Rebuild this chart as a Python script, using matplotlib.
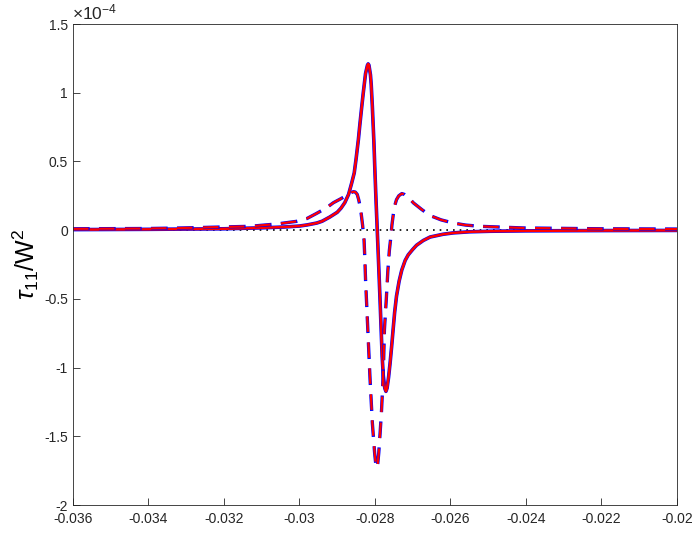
import matplotlib
matplotlib.use("Agg")
import matplotlib.pyplot as plt

plt.rcParams['font.family'] = ['Liberation Sans', 'DejaVu Sans']
plt.rcParams['mathtext.fontset'] = 'custom'
plt.rcParams['mathtext.rm'] = 'Liberation Sans'
plt.rcParams['mathtext.it'] = 'Liberation Sans:italic'

# values in units of 1e-4
x_solid = [-0.036, -0.034, -0.032, -0.031, -0.0304, -0.0300, -0.0298, -0.02954,
           -0.0294, -0.0292, -0.0290, -0.0289, -0.0288, -0.0287, -0.02862,
           -0.02855, -0.0285, -0.02844, -0.0284, -0.02835, -0.02831, -0.02825,
           -0.0282, -0.02818, -0.02816, -0.02812, -0.0281, -0.02807, -0.02803,
           -0.0280, -0.02797, -0.02794, -0.0279, -0.02787, -0.02784, -0.02781,
           -0.02778, -0.02774, -0.02771, -0.02768, -0.02764, -0.0276, -0.02756,
           -0.02752, -0.02748, -0.02743, -0.02736, -0.02729, -0.0272, -0.02712,
           -0.027, -0.0269, -0.02672, -0.02654, -0.0262, -0.02593, -0.0255,
           -0.02495, -0.024, -0.022, -0.02]
y_solid_red = [0.004, 0.006, 0.01, 0.017, 0.023, 0.030, 0.038, 0.052,
               0.065, 0.095, 0.13, 0.16, 0.20, 0.26, 0.34,
               0.416, 0.52, 0.659, 0.77, 0.90, 1.0, 1.14,
               1.20, 1.21, 1.20, 1.13, 1.06, 0.90, 0.65,
               0.416, 0.2, 0.0, -0.27, -0.48, -0.70, -0.918,
               -1.06, -1.15, -1.173, -1.15, -1.07, -0.967, -0.85,
               -0.724, -0.60, -0.48, -0.37, -0.29, -0.22, -0.18,
               -0.14, -0.11, -0.075, -0.05, -0.03, -0.02, -0.012,
               -0.008, -0.005, -0.003, -0.002]
y_solid_blue = list(y_solid_red)

x_dash = [-0.036, -0.034, -0.03309, -0.03131, -0.0306, -0.03008, -0.0298,
          -0.02956, -0.0293, -0.0291, -0.02893, -0.0288, -0.0287, -0.02862,
          -0.02857, -0.02852, -0.02847, -0.02843, -0.0284, -0.02837, -0.02833,
          -0.02829, -0.02827, -0.02825, -0.02819, -0.02813, -0.02807, -0.02801,
          -0.02798, -0.02796, -0.02793, -0.0279, -0.02787, -0.02783, -0.0278,
          -0.02777, -0.02775, -0.0277, -0.02766, -0.02762, -0.02758, -0.02755,
          -0.02751, -0.02747, -0.02743, -0.02737, -0.02729, -0.02722, -0.02715,
          -0.02706, -0.02698, -0.02676, -0.02654, -0.02625, -0.02593, -0.0256,
          -0.02522, -0.02407, -0.022, -0.02]
y_dash_red = [0.01, 0.012, 0.016, 0.028, 0.045, 0.064, 0.085,
              0.12, 0.16, 0.20, 0.225, 0.245, 0.262, 0.275,
              0.28, 0.277, 0.26, 0.22, 0.18, 0.13, 0.04,
              -0.07, -0.2, -0.36, -0.724, -1.088, -1.403, -1.62,
              -1.70, -1.73, -1.71, -1.62, -1.50, -1.33, -1.161,
              -0.94, -0.724, -0.50, -0.30, -0.15, -0.05, 0.04,
              0.125, 0.185, 0.222, 0.25, 0.266, 0.26, 0.245,
              0.222, 0.198, 0.15, 0.106, 0.075, 0.052, 0.037,
              0.028, 0.016, 0.01, 0.008]
y_dash_blue = list(y_dash_red)

x_ticks = [-0.036, -0.034, -0.032, -0.03, -0.028, -0.026, -0.024, -0.022, -0.02]
x_labels = ['-0.036', '-0.034', '-0.032', '-0.03', '-0.028', '-0.026', '-0.024', '-0.022', '-0.02']
y_ticks = [-2, -1.5, -1, -0.5, 0, 0.5, 1, 1.5]
y_labels = ['-2', '-1.5', '-1', '-0.5', '0', '0.5', '1', '1.5']

fig = plt.figure(figsize=(6.97, 5.36), dpi=100)
ax = fig.add_axes([0.1047, 0.0578, 0.8666, 0.8974])

ax.plot([-0.036, -0.02], [0, 0], color='k', linestyle=(0, (1, 3)), lw=1.2)
ax.plot(x_solid, y_solid_blue, color='blue', lw=2.6)
ax.plot(x_solid, y_solid_red, color='red', lw=1.8)
ax.plot(x_dash, y_dash_blue, color='blue', lw=2.4, dashes=(5, 2.8))
ax.plot(x_dash, y_dash_red, color='red', lw=1.6, dashes=(7, 4.7), dash_capstyle='butt')

ax.set_xlim(-0.036, -0.02)
ax.set_ylim(-2, 1.5)
ax.set_xticks(x_ticks)
ax.set_xticklabels(x_labels)
ax.set_yticks(y_ticks)
ax.set_yticklabels(y_labels)
ax.tick_params(direction='in', length=5, width=0.6, labelsize=10, colors='#262626',
               top=False, right=False)
ax.tick_params(axis='x', pad=5)
for s in ax.spines.values():
    s.set_color('#262626')
    s.set_linewidth(0.6)

ax.text(-0.002, 1.004, r'$\times10^{-4}$', transform=ax.transAxes, ha='left', va='bottom',
        fontsize=12.5, color='#262626')
ax.set_ylabel(r'$\tau_{11}/\mathrm{W}^2$', fontsize=18, labelpad=2)

fig.savefig('out.png', dpi=100)
